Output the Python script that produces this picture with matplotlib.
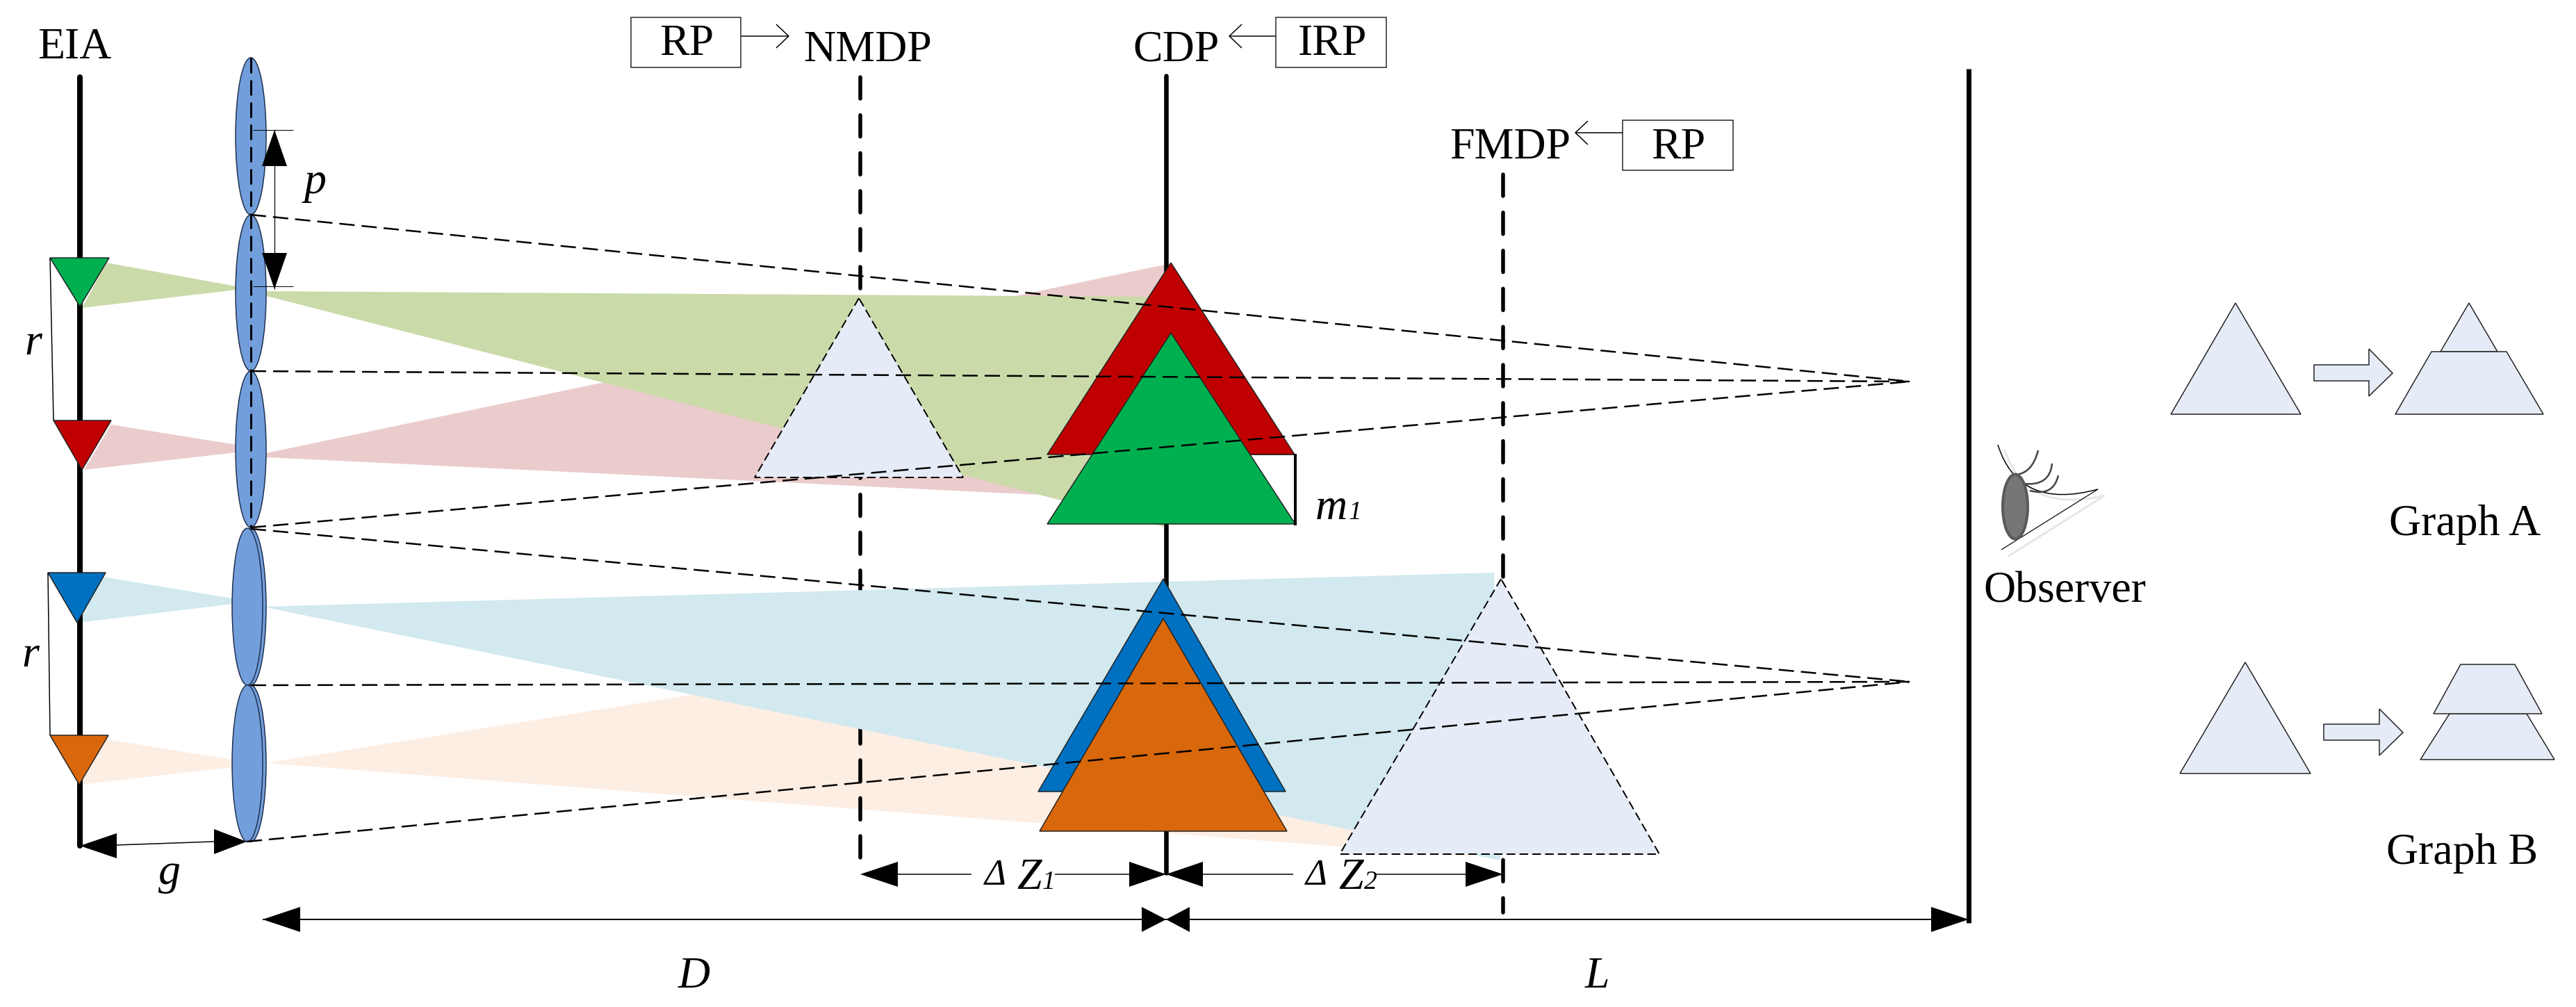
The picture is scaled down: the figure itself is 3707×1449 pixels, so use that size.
import matplotlib
matplotlib.use("Agg")
import matplotlib.pyplot as plt
from matplotlib.patches import Polygon, Ellipse, Rectangle, PathPatch
from matplotlib.path import Path

W, H = 3707, 1449
plt.rcParams["font.family"] = ["Liberation Serif", "DejaVu Serif"]

# colours
c_green_b, c_pink_b, c_blue_b, c_peach_b = "#cbdaa9", "#ebcccc", "#d1e9ef", "#fdeee4"
c_green, c_red, c_blue, c_orange = "#00b050", "#c00000", "#0070c0", "#d9670b"
c_lens, c_pale = "#729fdb", "#e6ecf7"

# light beams (picture pixels)
green_left = [(153, 378), (340, 412), (340, 417), (118, 443)]
green_right = [(383, 419), (1650, 427), (1675, 758), (384, 426)]
red_left = [(160, 611), (340, 640), (340, 651), (121, 676)]
red_right = [(383, 652), (1685, 379), (1600, 717), (383, 658)]
blue_left = [(148, 830), (334, 861), (334, 869), (112, 896)]
blue_right = [(378, 873), (2150, 824), (2159, 1238)]
peach_left = [(153, 1064), (334, 1093), (334, 1104), (115, 1129)]
peach_right = [(383, 1098), (1680, 890), (2118, 1233)]

# small triangles on the EIA
eia_green = [(72, 371), (157, 371), (115, 441)]
eia_red = [(77, 605), (160, 605), (118, 676)]
eia_blue = [(69, 824), (152, 824), (111, 896)]
eia_orange = [(72, 1058), (156, 1058), (114, 1129)]

# triangles on the display planes
cdp_red = [(1685, 378), (1507, 654), (1863, 654)]
cdp_green = [(1685, 479), (1507, 754), (1864, 754)]
cdp_blue = [(1674, 833), (1494, 1139), (1850, 1139)]
cdp_orange = [(1674, 890), (1496, 1196), (1852, 1196)]
nmdp_tri = [(1236, 429), (1086, 687), (1386, 687)]
fmdp_tri = [(2160, 833), (1928, 1229), (2388, 1229)]

# lenses: centre x, top y, bottom y
lens_top = [(361, 83, 309), (361, 309, 534), (361, 534, 759)]
lens_low = [(356, 760, 986), (356, 986, 1211)]

# dashed rays
focus_up = (2748, 549)
focus_low = (2748, 981)
rays_up = [(361, 309), (361, 534), (361, 759)]
rays_low = [(361, 761), (361, 986), (355, 1211)]

# Graph A / Graph B
a_tri = [(3217, 436), (3124, 596), (3311, 596)]
a_arrow = [(3330, 525), (3409, 525), (3409, 502), (3443, 537), (3409, 570), (3409, 548), (3330, 548)]
a_top = [(3553, 436), (3512, 506), (3594, 506)]
a_trap = [(3499, 506), (3607, 506), (3660, 596), (3447, 596)]
b_tri = [(3231, 953), (3137, 1113), (3325, 1113)]
b_arrow = [(3344, 1042), (3424, 1042), (3424, 1020), (3458, 1054), (3424, 1087), (3424, 1065), (3344, 1065)]
b_low = [(3525, 1027), (3636, 1027), (3676, 1093), (3483, 1093)]
b_trap = [(3541, 956), (3619, 956), (3658, 1027), (3502, 1027)]

# labels: text, left x, baseline y
labels = [("EIA", 54, 84), ("RP", 949, 79), ("NMDP", 1156, 88), ("CDP", 1630, 88),
          ("IRP", 1868, 79), ("FMDP", 2086, 228), ("RP", 2376, 228),
          ("Observer", 2854, 866), ("Graph A", 3438, 770), ("Graph B", 3434, 1243)]
italic_labels = [("p", 438, 278), ("r", 35, 510), ("r", 31, 959), ("g", 228, 1272),
                 ("D", 976, 1421), ("L", 2281, 1421), ("m", 1893, 747),
                 ("Z", 1463, 1279), ("Z", 1926, 1279)]
delta_labels = [("Δ", 1417, 1273), ("Δ", 1879, 1273)]
sub_labels = [("1", 1941, 747), ("1", 1500, 1279), ("2", 1963, 1279)]

fig = plt.figure(figsize=(W / 100, H / 100), dpi=100)
ax = fig.add_axes([0, 0, 1, 1])
ax.set_xlim(0, W)
ax.set_ylim(H, 0)
ax.axis("off")


def px(v):
    return v * 0.72


def poly(pts, fc, ec="none", lw=0, z=1, **kw):
    ax.add_patch(Polygon(pts, closed=True, facecolor=fc, edgecolor=ec, linewidth=px(lw), zorder=z, **kw))


def line(xs, ys, lw=2, z=5, color="black", dash=None, cap="butt"):
    l, = ax.plot(xs, ys, color=color, lw=px(lw), zorder=z, solid_capstyle=cap)
    if dash:
        l.set_dashes([dash[0] / lw, dash[1] / lw])
        l.set_dash_capstyle(cap)
    return l


def head(tip, base, half, vertical=False, z=6):
    if vertical:
        poly([(tip[0], tip[1]), (tip[0] - half, base), (tip[0] + half, base)], "black", z=z)
    else:
        poly([(tip[0], tip[1]), (base, tip[1] - half), (base, tip[1] + half)], "black", z=z)


def open_arrow(x0, x1, y):
    # thin line with an open head at x1
    d = 18 if x1 > x0 else -18
    line([x0, x1], [y, y], lw=1.5)
    line([x1 - d, x1, x1 - d], [y - 17, y, y + 17], lw=1.5)


def curve(p0, p1, p2, color="black", lw=1.5, z=5):
    path = Path([p0, p1, p2], [Path.MOVETO, Path.CURVE3, Path.CURVE3])
    ax.add_patch(PathPatch(path, fc="none", ec=color, lw=px(lw), zorder=z))


# beams and planes, order matters: NMDP line sits over the red and peach beams only
for b in (peach_left, peach_right):
    poly(b, c_peach_b, z=1)
for b in (red_left, red_right):
    poly(b, c_pink_b, z=1.2)
line([1238, 1238], [111, 1241], lw=5.5, z=1.5, dash=(31, 23.6), cap="round")
line([2163, 2163], [251, 1313], lw=5.5, z=1.5, dash=(31, 23.8), cap="round")
for b in (green_left, green_right):
    poly(b, c_green_b, z=2)
for b in (blue_left, blue_right):
    poly(b, c_blue_b, z=2)

# solid vertical lines
line([115, 115], [111, 1217], lw=8, z=2.5, cap="round")
line([1678, 1678], [109, 1256], lw=6.5, z=2.5, cap="round")
line([2833, 2833], [99, 1328], lw=7, z=2.5)

# lenses
for x, y0, y1 in lens_top:
    ax.add_patch(Ellipse((x, (y0 + y1) / 2), 44, y1 - y0, fc=c_lens, ec="#1f2f4f", lw=px(1.5), zorder=3))
for x, y0, y1 in lens_low:
    ax.add_patch(Ellipse((x + 5, (y0 + y1) / 2), 44, y1 - y0, fc=c_lens, ec="#1f2f4f", lw=px(1.5), zorder=3))
    ax.add_patch(Ellipse((x, (y0 + y1) / 2), 44, y1 - y0, fc=c_lens, ec="#1f2f4f", lw=px(1.5), zorder=3.1))
line([361, 361], [83, 759], lw=3, z=3.5, dash=(22, 10))

# triangles
for t, c in ((eia_green, c_green), (eia_red, c_red), (eia_blue, c_blue), (eia_orange, c_orange)):
    poly(t, c, ec="#222222", lw=1.5, z=4)
poly(cdp_red, c_red, ec="#222222", lw=1.5, z=4)
poly(cdp_green, c_green, ec="#222222", lw=1.5, z=4.1)
poly(cdp_blue, c_blue, ec="#222222", lw=1.5, z=4)
poly(cdp_orange, c_orange, ec="#222222", lw=1.5, z=4.1)
for t in (nmdp_tri, fmdp_tri):
    ax.add_patch(Polygon(t, closed=True, facecolor=c_pale, edgecolor="black", linewidth=px(2),
                         linestyle=(0, (12.4 / 2, 6 / 2)), zorder=4))

# dashed rays over everything
for focus, rays in ((focus_up, rays_up), (focus_low, rays_low)):
    for x, y in rays:
        line([x, focus[0]], [y, focus[1]], lw=2.5, z=5, dash=(22, 10))

# r brackets, m1
line([72, 77], [371, 605], lw=1.5)
line([69, 72], [824, 1058], lw=1.5)
line([1864, 1864], [653, 756], lw=4, z=5)
line([1800, 1864], [654, 654], lw=1.5, z=3.9)

# p dimension
line([364, 422], [187, 187], lw=1)
line([364, 422], [412, 412], lw=1)
line([395, 395], [187, 416], lw=1.2)
head((395, 187), 239, 18, vertical=True)
head((395, 416), 364, 18, vertical=True)

# g dimension
line([167, 308], [1216, 1211], lw=1.5)
head((115, 1217), 168, 18)
head((355, 1211), 308, 18)

# D / L dimension
line([378, 2833], [1323, 1323], lw=2)
head((378, 1323), 432, 18)
head((1678, 1323), 1643, 18)
head((1678, 1323), 1712, 18)
head((2833, 1323), 2779, 18)

# delta Z dimensions
for x0, x1 in ((1292, 1398), (1518, 1625), (1731, 1861), (1979, 2109)):
    line([x0, x1], [1258, 1258], lw=1.5)
head((1238, 1258), 1292, 18)
head((1678, 1258), 1625, 18)
head((1678, 1258), 1731, 18)
head((2163, 1258), 2109, 18)

# boxes and thin arrows at the top
for x0, x1, y0, y1 in ((908, 1066, 25, 97), (1836, 1995, 25, 97), (2335, 2494, 173, 245)):
    ax.add_patch(Rectangle((x0, y0), x1 - x0, y1 - y0, fc="white", ec="#222222", lw=px(1.5), zorder=5))
open_arrow(1067, 1135, 52)
open_arrow(1836, 1769, 52)
open_arrow(2335, 2267, 191)

# graph A and B
for t in (a_tri, a_top, b_tri, a_arrow, b_arrow, b_low):
    poly(t, c_pale, ec="#222222", lw=1.5, z=4)
poly(a_trap, c_pale, ec="#222222", lw=1.5, z=4.1)
poly(b_trap, c_pale, ec="#222222", lw=1.5, z=4.1)

# eye of the observer
line([2880, 3019], [791, 704], lw=1.2)
line([2889, 3029], [801, 713], lw=3, color="#e6e6e6", z=4)
curve((2875, 640), (2905, 735), (3019, 704))
curve((2885, 648), (2915, 740), (3029, 713), color="#e6e6e6", lw=3, z=4)
curve((2902, 683), (2925, 680), (2933, 648), color="#444444", lw=2.5)
curve((2912, 696), (2950, 700), (2953, 667), color="#444444", lw=2.5)
curve((2921, 706), (2955, 715), (2962, 684), color="#444444", lw=2.5)
ax.add_patch(Ellipse((2900, 729), 36, 93, fc="#767676", ec="#5a5a5a", lw=px(4), zorder=6))

# text
for s, x, y in labels:
    ax.text(x, y, s, fontsize=46, ha="left", va="baseline", zorder=7)
for s, x, y in italic_labels:
    ax.text(x, y, s, fontsize=46, style="italic", ha="left", va="baseline", zorder=7)
for s, x, y in delta_labels:
    ax.text(x, y, s, fontsize=38, style="italic", ha="left", va="baseline", zorder=7)
for s, x, y in sub_labels:
    ax.text(x, y, s, fontsize=27, style="italic", ha="left", va="baseline", zorder=7)

fig.savefig("out.png", dpi=100, facecolor="white")
